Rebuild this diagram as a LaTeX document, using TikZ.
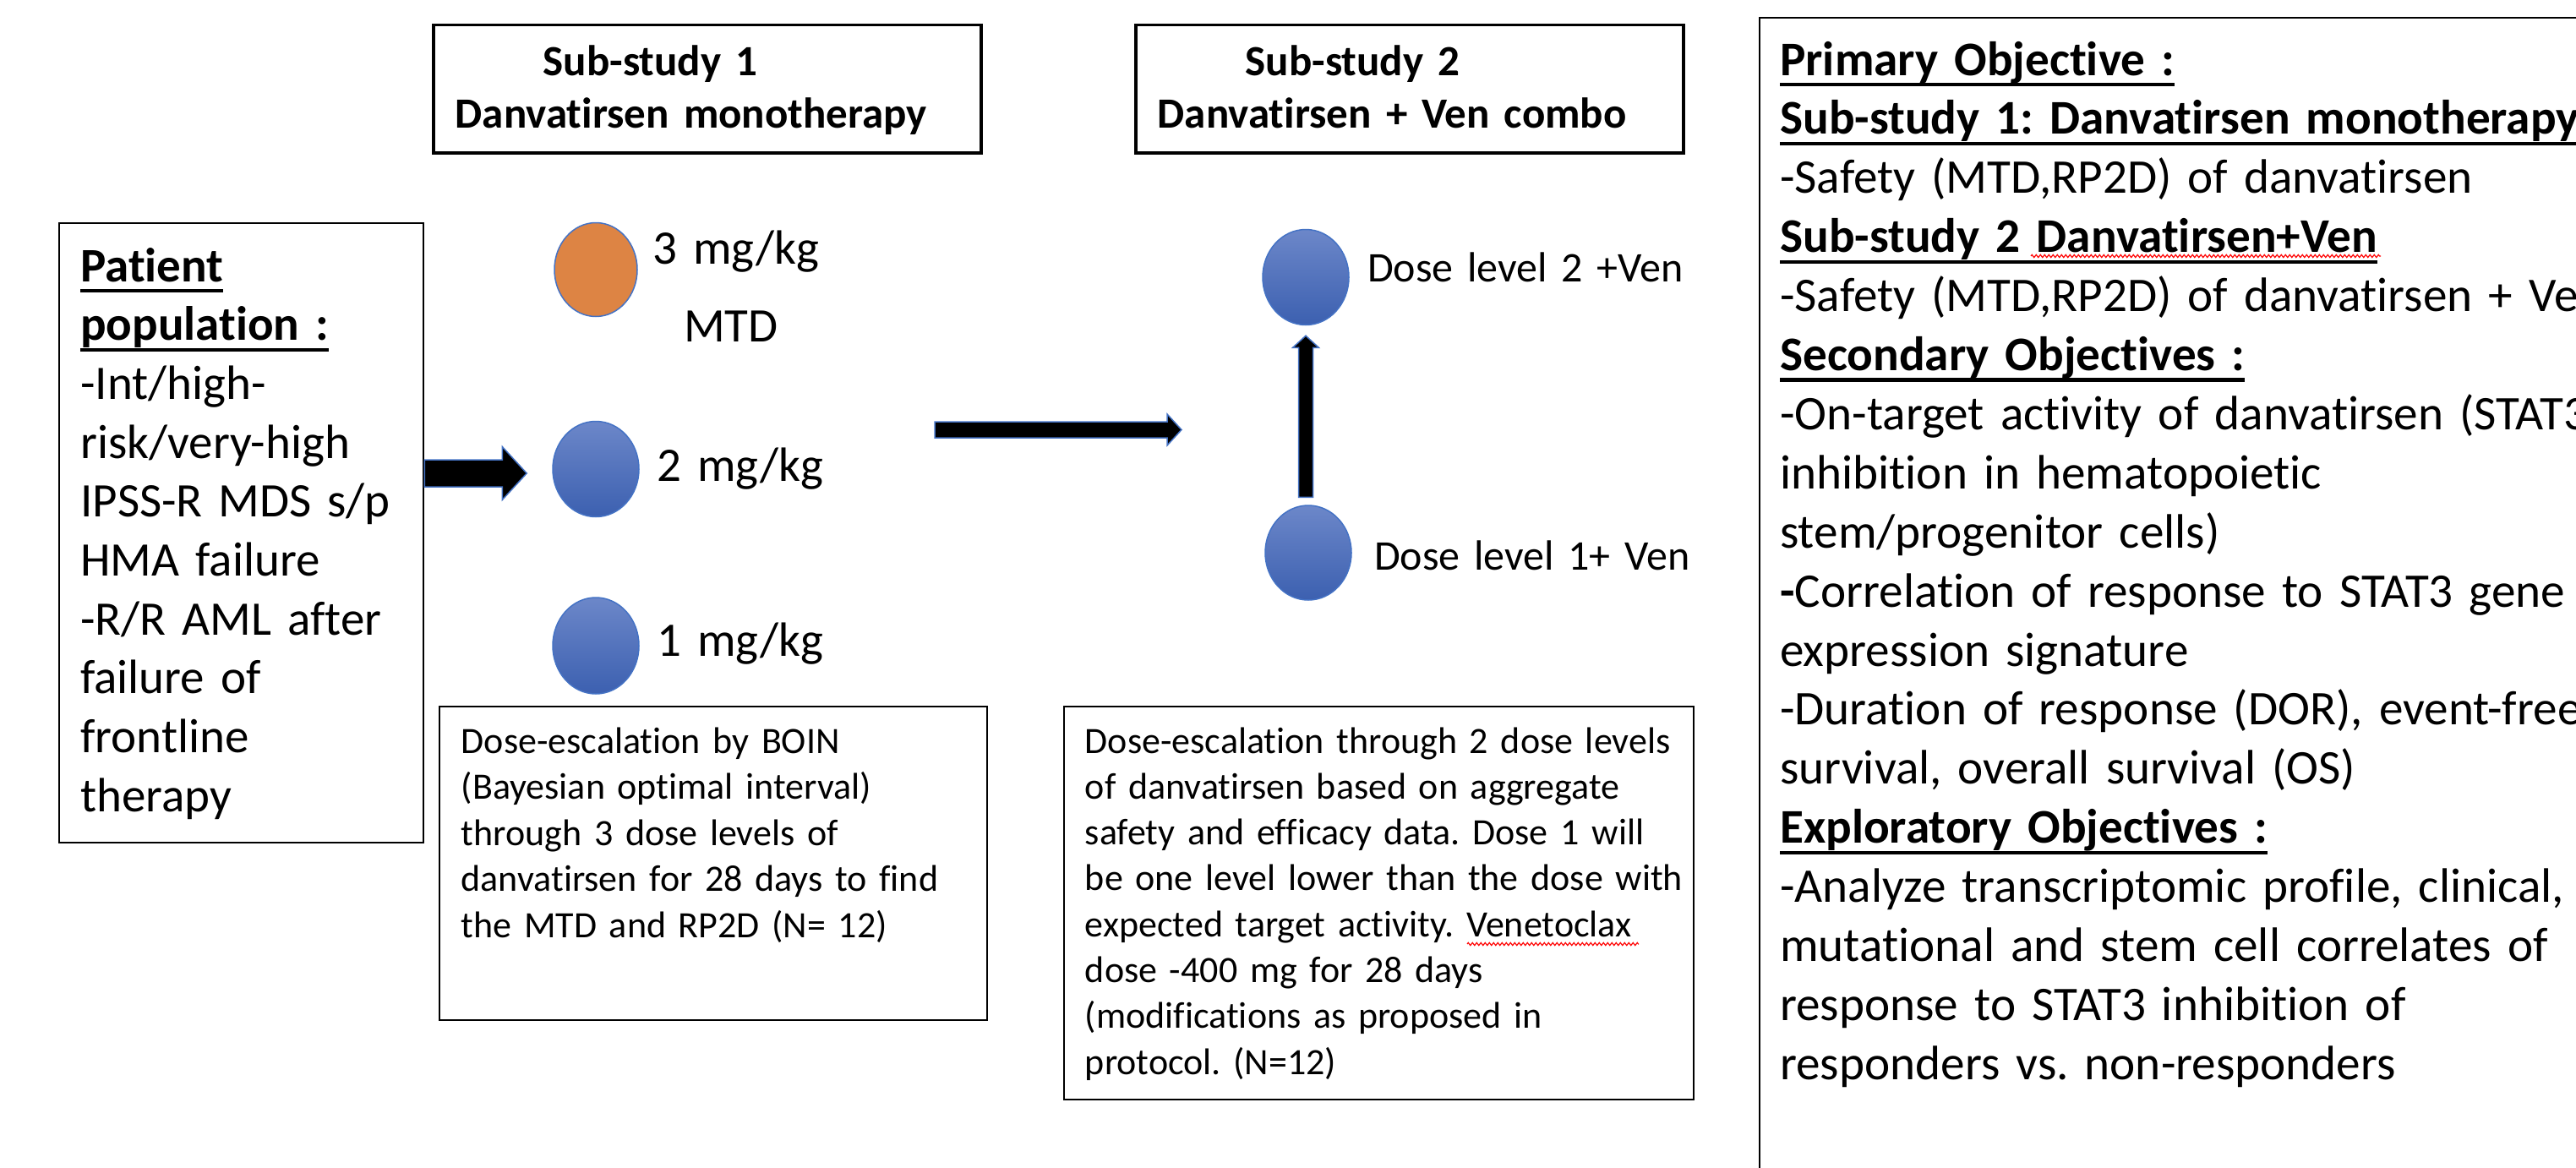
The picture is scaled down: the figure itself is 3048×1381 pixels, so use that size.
\documentclass[tikz,border=0pt]{standalone}
\usepackage{fontspec}
\setmainfont{Carlito}[Ligatures=CommonOff]
\usetikzlibrary{calc,shapes.geometric,decorations.pathmorphing}
\definecolor{dotedge}{RGB}{68,114,196}
\definecolor{dottop}{RGB}{108,135,201}
\definecolor{dotbot}{RGB}{60,96,176}
\definecolor{dotorange}{RGB}{221,132,68}
\newcommand\hdul[1]{\leavevmode\setbox0=\hbox{#1}\rlap{\rule[-0.235em]{\wd0}{0.08em}}\box0}
\begin{document}
\frenchspacing
\begin{tikzpicture}[x=1pt,y=-1pt,
  boxframe/.style={draw=black, line width=#1, inner sep=0pt, rectangle},
  txtblock/.style={anchor=base west, inner sep=0pt, align=left, text width=1400pt},
  bluedot/.style={ellipse, draw=dotedge, line width=1.5pt, top color=dottop, bottom color=dotbot, inner sep=0pt},
  orangedot/.style={ellipse, draw=dotedge, line width=1.5pt, fill=dotorange, inner sep=0pt},
  blockarrow/.style={fill=black, draw=dotedge, line width=1.5pt},
  spellmark/.style={draw=red, line width=1.2pt, decorate, decoration={zigzag, amplitude=1.6pt, segment length=5pt}}
]
\useasboundingbox (0,0) rectangle (3048,1381);
\clip (0,0) rectangle (3048,1381);
\fill[white] (0,0) rectangle (3048,1381);

% boxes
\node[boxframe=3.5pt, minimum width=648, minimum height=151.5] (sub1box) at (837,105.25) {};
\node[boxframe=3.5pt, minimum width=648, minimum height=151.5] (sub2box) at (1668,105.25) {};
\node[boxframe=2.8pt, minimum width=1068, minimum height=1429] (objbox) at (2616,735.5) {};
\node[boxframe=2.5pt, minimum width=431, minimum height=733] (patbox) at (285.5,630.5) {};
\node[boxframe=2.5pt, minimum width=648, minimum height=371] (esc1box) at (844,1021.5) {};
\node[boxframe=2.5pt, minimum width=745, minimum height=465] (esc2box) at (1631.5,1068.5) {};

% headers
\node[txtblock, font=\fontsize{51}{62.4}\selectfont\bfseries] (sub1txt) at (538.6,89.3)
  {\hspace*{103.7pt}Sub-study 1\\Danvatirsen monotherapy};
\node[txtblock, font=\fontsize{51}{62.4}\selectfont\bfseries] (sub2txt) at (1369.6,89.3)
  {\hspace*{103.7pt}Sub-study 2\\Danvatirsen + Ven combo};

% patient population
\node[txtblock, font=\fontsize{57}{69.7}\selectfont] (pattxt) at (95,333)
  {\hdul{\textbf{Patient}}\\\hdul{\textbf{population :}}\\-Int/high-\\risk/very-high\\IPSS-R MDS s/p\\HMA failure\\-R/R AML after\\failure of\\frontline\\therapy};

% dose circles sub-study 1
\node[orangedot, minimum width=98, minimum height=111] (d3) at (705,319) {};
\node[bluedot, minimum width=102, minimum height=113] (d2) at (705,555) {};
\node[bluedot, minimum width=102, minimum height=114] (d1) at (705,764) {};
\node[txtblock, font=\fontsize{57}{69}\selectfont] (d3lab) at (772,312) {3 mg/kg};
\node[txtblock, font=\fontsize{57}{69}\selectfont] (mtdlab) at (809,404) {MTD};
\node[txtblock, font=\fontsize{57}{69}\selectfont] (d2lab) at (777,569) {2 mg/kg};
\node[txtblock, font=\fontsize{57}{69}\selectfont] (d1lab) at (777,776) {1 mg/kg};

% dose circles sub-study 2
\node[bluedot, minimum width=102, minimum height=113] (v2) at (1545,328) {};
\node[bluedot, minimum width=102, minimum height=112] (v1) at (1548,654) {};
\node[txtblock, font=\fontsize{50}{61}\selectfont] (v2lab) at (1618,333) {Dose level 2 +Ven};
\node[txtblock, font=\fontsize{50}{61}\selectfont] (v1lab) at (1626,674) {Dose level 1+ Ven};

% description boxes
\node[txtblock, font=\fontsize{44}{54.5}\selectfont] (esc1txt) at (545.6,891)
  {Dose-escalation by BOIN\\(Bayesian optimal interval)\\through 3 dose levels of\\danvatirsen for 28 days to find\\the MTD and RP2D (N= 12)};
\node[txtblock, font=\fontsize{44}{54.3}\selectfont] (esc2txt) at (1283.7,891)
  {Dose-escalation through 2 dose levels\\of danvatirsen based on aggregate\\safety and efficacy data. Dose 1 will\\be one level lower than the dose with\\expected target activity. Venetoclax\\dose -400 mg for 28 days\\(modifications as proposed in\\protocol. (N=12)};

% objectives
\node[txtblock, font=\fontsize{57.2}{69.9}\selectfont] (objtxt) at (2106,89)
  {\hdul{\textbf{Primary Objective :}}\\
   \hdul{\textbf{Sub-study 1: Danvatirsen monotherapy}}\\
   -Safety (MTD,RP2D) of danvatirsen\\
   \hdul{\textbf{Sub-study 2 Danvatirsen+Ven}}\\
   -Safety (MTD,RP2D) of danvatirsen + Ven\\
   \hdul{\textbf{Secondary Objectives :}}\\
   -On-target activity of danvatirsen (STAT3\\
   inhibition in hematopoietic\\
   stem/progenitor cells)\\
   \textbf{-}Correlation of response to STAT3 gene\\
   expression signature\\
   -Duration of response (DOR), event-free\\
   survival, overall survival (OS)\\
   \hdul{\textbf{Exploratory Objectives :}}\\
   -Analyze transcriptomic profile, clinical,\\
   mutational and stem cell correlates of\\
   response to STAT3 inhibition of\\
   responders vs. non-responders};

% spell-check marks
\draw[spellmark] (1736,1117) -- (1939,1117);
\draw[spellmark] (2403,303) -- (2817,303);

% arrows
\coordinate (a1s) at ($(patbox.east |- d2.center)+(0,5)$);
\coordinate (a1t) at ($(d2.west)+(-30,5)$);
\draw[blockarrow] ($(a1s)+(0,-16)$) -- ($(a1t)+(-29,-16)$) -- ($(a1t)+(-29,-31.5)$) -- (a1t)
  -- ($(a1t)+(-29,31.5)$) -- ($(a1t)+(-29,16)$) -- ($(a1s)+(0,16)$) -- cycle;

\coordinate (a2s) at (1106,508.5);
\coordinate (a2t) at (1398,508.5);
\draw[blockarrow] ($(a2s)+(0,-9.5)$) -- ($(a2t)+(-17,-9.5)$) -- ($(a2t)+(-17,-18.5)$) -- (a2t)
  -- ($(a2t)+(-17,18.5)$) -- ($(a2t)+(-17,9.5)$) -- ($(a2s)+(0,9.5)$) -- cycle;

\coordinate (a3s) at ($(v1.north)+(-3,-9)$);
\coordinate (a3t) at ($(v2.south)+(0,12)$);
\draw[blockarrow] ($(a3s)+(-8.5,0)$) -- ($(a3t)+(-8.5,14)$) -- ($(a3t)+(-15.3,14)$) -- (a3t)
  -- ($(a3t)+(15.3,14)$) -- ($(a3t)+(8.5,14)$) -- ($(a3s)+(8.5,0)$) -- cycle;
\end{tikzpicture}
\end{document}
